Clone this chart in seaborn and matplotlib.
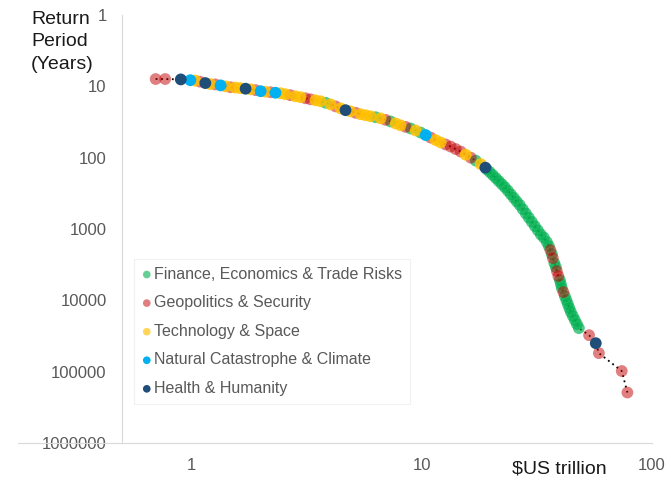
import matplotlib
matplotlib.use("Agg")
import matplotlib.pyplot as plt
from matplotlib.ticker import NullLocator
import pandas as pd
import seaborn as sns

# ---------------- data ----------------
category_codes = ["F", "G", "T", "N", "H"]
category_names = ["Finance, Economics & Trade Risks", "Geopolitics & Security",
                  "Technology & Space", "Natural Catastrophe & Climate", "Health & Humanity"]
category_colors = ["#00b050", "#c00000", "#ffc000", "#00b0f0", "#1f4e79"]
category_alpha = [0.68, 0.5, 0.85, 1.0, 1.0]
legend_alpha = [0.6, 0.5, 0.65, 1.0, 1.0]

loss_tn = [
    0.70, 0.77, 0.90,
    0.99, 1.04, 1.09, 1.15, 1.21, 1.27, 1.34, 1.41, 1.48, 1.55,
    1.63, 1.72, 1.81, 1.90, 2.00, 2.10, 2.21, 2.32, 2.44, 2.56,
    2.69, 2.83, 2.98, 3.13, 3.29, 3.46, 3.64, 3.83, 4.02, 4.23,
    4.45, 4.67, 4.91, 5.17, 5.43, 5.71, 6.00, 6.31, 6.63, 6.97,
    7.33, 7.71, 8.10, 8.52, 8.96, 9.42, 9.90, 10.41, 10.94, 11.50,
    12.09, 12.71, 13.37, 14.05, 14.77, 15.53, 16.33, 17.17, 18.05,
    18.90, 19.17, 19.75, 20.36, 20.98, 21.62, 22.28, 22.96, 23.66, 24.38,
    25.12, 25.88, 26.68, 27.49, 28.33, 29.19, 30.08, 31.00, 31.94, 32.92,
    33.92, 34.96, 35.66, 36.21, 36.75, 37.12, 37.68, 38.25, 38.64, 39.22,
    39.81, 40.21, 40.61, 41.23, 41.85, 42.49, 43.13, 43.78, 44.45, 45.35,
    46.26, 47.20, 48.14,
    53.3, 57.0, 58.8, 73.9, 78.2,
]

return_period_yrs = [
    7.9, 7.9, 8.0,
    8.2, 8.3, 8.6, 9.0, 9.3, 9.4, 9.7, 10.0, 10.3, 10.4,
    10.6, 10.8, 11.0, 11.3, 11.7, 11.9, 12.1, 12.3, 12.5, 12.9,
    13.3, 13.8, 14.2, 14.7, 15.2, 15.7, 16.2, 17.0, 17.9, 19.1,
    20.4, 21.6, 22.4, 23.5, 24.6, 25.4, 26.3, 27.1, 28.1, 29.5,
    31.1, 33.1, 35.2, 37.0, 39.0, 41.6, 44.5, 48.2, 52.3, 56.7,
    61.2, 65.3, 69.9, 75.7, 82.1, 90.8, 100, 110, 123,
    138, 146, 159, 175, 193, 213, 235, 259, 290, 326,
    366, 412, 462, 529, 606, 694, 795, 911, 1043, 1194,
    1324, 1526, 1737, 1977, 2249, 2559, 3008, 3423, 3895, 4578,
    5210, 5928, 6746, 7674, 8733, 9936, 11306, 12865, 14640, 16660,
    18955, 21570, 24540,
    30800, 39900, 55000, 98000, 196000,
]

risk_category = [
    "G", "G", "H",
    "N", "T", "G", "H", "T", "G", "N", "T", "G", "T",
    "T", "H", "T", "G", "N", "T", "G", "N", "T", "T",
    "G", "T", "T", "G", "G", "T", "T", "F", "T", "G",
    "T", "H", "T", "G", "T", "T", "T", "F", "T", "G",
    "F", "T", "T", "G", "F", "T", "F", "N", "G", "T",
    "T", "G", "G", "G", "G", "T", "G", "F", "T",
    "H", "F", "F", "F", "F", "F", "F", "F", "F", "F",
    "F", "F", "F", "F", "F", "F", "F", "F", "F", "F",
    "F", "F", "F", "G", "F", "G", "F", "F", "G", "G",
    "F", "F", "F", "G", "F", "F", "F", "F", "F", "F",
    "F", "F", "F",
    "G", "H", "G", "G", "G",
]

x_ticks = [1, 10, 100]
x_tick_labels = ["1", "10", "100"]
y_ticks = [1, 10, 100, 1000, 10000, 100000, 1000000]
y_tick_labels = ["1", "10", "100", "1000", "10000", "100000", "1000000"]

df = pd.DataFrame({"loss": loss_tn, "rp": return_period_yrs, "cat": risk_category})

# ---------------- style ----------------
sns.set_theme(style="white")
plt.rcParams["font.family"] = ["Liberation Sans", "DejaVu Sans"]

fig = plt.figure(figsize=(6.68, 4.79), dpi=100)
ax = fig.add_axes([122 / 668, 36 / 479, 530 / 668, 428 / 479])
ax.set_xscale("log")
ax.set_yscale("log")

sns.lineplot(data=df, x="loss", y="rp", sort=False, estimator=None, color="black",
             linestyle=(0, (1, 2)), linewidth=1.3, ax=ax, zorder=1)

for code, name, col, a in zip(category_codes, category_names, category_colors, category_alpha):
    sub = df[df["cat"] == code]
    sns.scatterplot(data=sub, x="loss", y="rp", color=col, alpha=a, s=72,
                    edgecolor="none", linewidth=0, label=name, ax=ax, zorder=2)

ax.set_xlim(0.5, 100)
ax.set_ylim(1000000, 1)
ax.set_xticks(x_ticks)
ax.set_xticklabels(x_tick_labels)
ax.set_yticks(y_ticks)
ax.set_yticklabels(y_tick_labels)
ax.xaxis.set_minor_locator(NullLocator())
ax.yaxis.set_minor_locator(NullLocator())
ax.set_xlabel("")
ax.set_ylabel("")

grey = "#d9d9d9"
ax.tick_params(axis="both", which="major", direction="in", length=3.6, width=0.8,
               color=grey, labelcolor="#595959", labelsize=12)
ax.tick_params(axis="y", pad=11)
ax.tick_params(axis="x", pad=11)
for s in ["top", "right"]:
    ax.spines[s].set_visible(False)
for s in ["left", "bottom"]:
    ax.spines[s].set_color(grey)
    ax.spines[s].set_linewidth(0.8)
ax.axhline(1000000, xmin=-104 / 530, xmax=0, color=grey, linewidth=0.8, clip_on=False)

leg = ax.legend(loc="lower left", bbox_to_anchor=(12 / 530, 39 / 428), borderaxespad=0,
                frameon=True, fancybox=False, edgecolor="#eeeeee", fontsize=11.5,
                labelcolor="#595959", handletextpad=0.15, labelspacing=0.85,
                borderpad=0.5, markerscale=0.65, handlelength=0.6)
leg.get_frame().set_linewidth(0.8)
for h, la in zip(leg.legend_handles, legend_alpha):
    h.set_alpha(la)

fig.text(31 / 668, 1 - 11 / 479, "Return\nPeriod\n(Years)", fontsize=14, color="#1a1a1a",
         ha="left", va="top", linespacing=1.42)
fig.text(512 / 668, 1 - 469 / 479, "$US trillion", fontsize=14, color="#1a1a1a",
         ha="left", va="center")

fig.savefig("out.png", dpi=100)
